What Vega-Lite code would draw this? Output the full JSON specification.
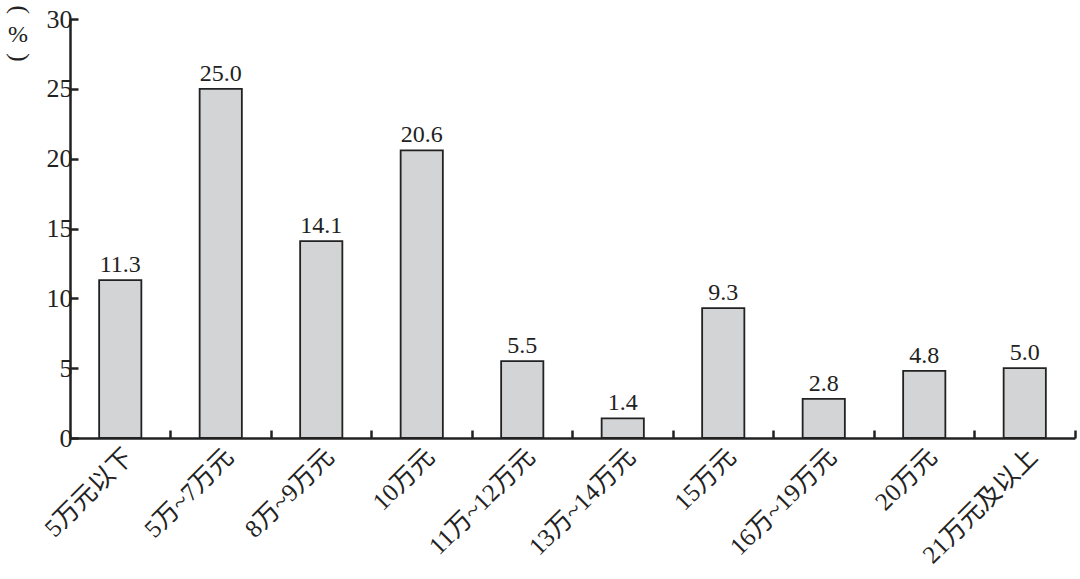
{
  "$schema": "https://vega.github.io/schema/vega-lite/v6.json",
  "autosize": "none",
  "width": 1005,
  "height": 419,
  "padding": {"left": 70, "top": 19, "right": 5, "bottom": 141},
  "background": "white",
  "title": {"text": "%", "orient": "top", "anchor": "start", "frame": "group", "dx": -62, "dy": 46, "fontSize": 24, "fontWeight": "normal", "font": "Liberation Serif", "color": "#222"},
  "config": {
    "view": {"stroke": null},
    "font": "Liberation Serif, Noto Sans CJK SC",
    "axis": {"domainColor": "#222", "domainWidth": 2.5, "tickColor": "#222", "tickWidth": 2.5, "grid": false, "labelColor": "#222", "labelFont": "Liberation Serif, Noto Sans CJK SC"}
  },
  "data": {"values": [
    {"cat": "5万元以下", "v": 11.3},
    {"cat": "5万~7万元", "v": 25.0},
    {"cat": "8万~9万元", "v": 14.1},
    {"cat": "10万元", "v": 20.6},
    {"cat": "11万~12万元", "v": 5.5},
    {"cat": "13万~14万元", "v": 1.4},
    {"cat": "15万元", "v": 9.3},
    {"cat": "16万~19万元", "v": 2.8},
    {"cat": "20万元", "v": 4.8},
    {"cat": "21万元及以上", "v": 5.0}
  ]},
  "encoding": {
    "x": {"field": "cat", "type": "nominal", "sort": null,
      "scale": {"paddingInner": 0, "paddingOuter": 0},
      "axis": {"title": null, "labelAngle": -45, "labelFontSize": 25, "tickSize": -8, "bandPosition": 1, "labelPadding": 14}},
    "y": {"field": "v", "type": "quantitative",
      "scale": {"domain": [0, 30]},
      "axis": {"values": [0, 5, 10, 15, 20, 25, 30], "tickSize": -8, "labelFontSize": 26, "labelPadding": 6,
        "title": "(\u2002\u2002\u2002)", "titleAngle": -90, "titleFontSize": 26, "titleFontWeight": "normal", "titleColor": "#222",
        "titleX": -55, "titleY": 14, "titleAlign": "center", "titleBaseline": "middle", "titleFont": "Liberation Serif"}}
  },
  "layer": [
    {"mark": {"type": "bar", "width": {"band": 0.42}, "fill": "#d2d4d6", "stroke": "#222", "strokeWidth": 1.8}},
    {"mark": {"type": "text", "dy": -15, "fontSize": 24, "color": "#222", "font": "Liberation Serif"},
      "encoding": {"text": {"field": "v", "type": "quantitative", "format": ".1f"}}}
  ]
}
